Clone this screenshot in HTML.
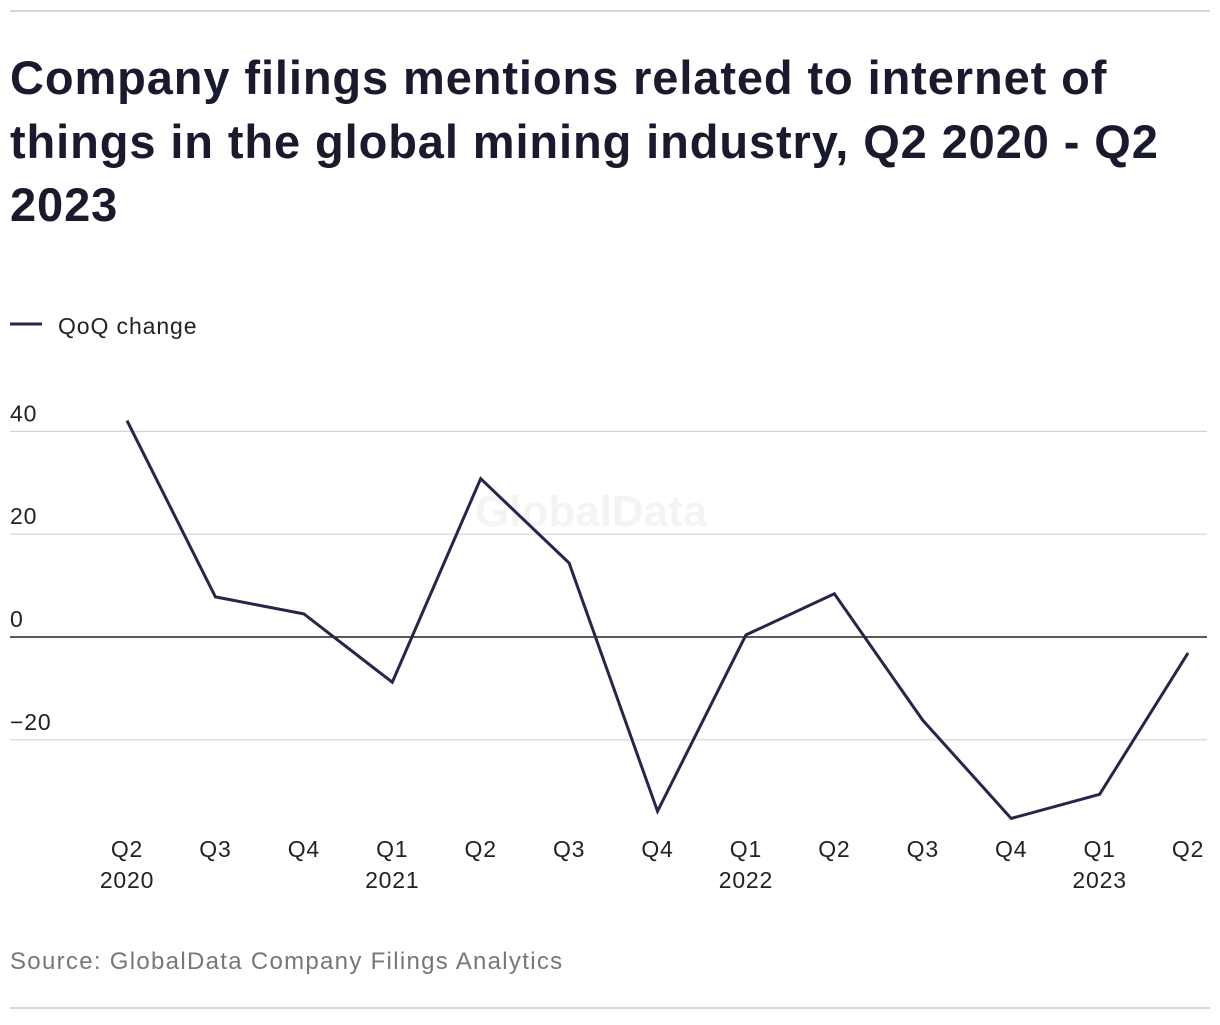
<!DOCTYPE html>
<html><head><meta charset="utf-8"><style>
body{margin:0;background:#fff;width:1220px;height:1020px;overflow:hidden;font-family:"Liberation Sans",sans-serif;}
</style></head><body>
<svg width="1220" height="1020">
<line x1="10" y1="11" x2="1210" y2="11" stroke="#d8d8d8" stroke-width="2"/>
<g font-size="47" font-weight="bold" fill="#1a1a2e" letter-spacing="0.9">
<text x="10" y="94">Company filings mentions related to internet of</text>
<text x="10" y="158">things in the global mining industry, Q2 2020 - Q2</text>
<text x="10" y="221">2023</text>
</g>
<line x1="10" y1="324" x2="42" y2="324" stroke="#26264a" stroke-width="3"/>
<text x="58" y="334" font-size="23" fill="#222" letter-spacing="0.9">QoQ change</text>
<text x="475" y="526" font-size="44" font-weight="bold" fill="#f4f4f4">GlobalData</text>
<g id="grid"></g>
<g id="xlabels"></g>
<path id="line" fill="none" stroke="#26264a" stroke-width="3" stroke-linejoin="miter"/>
<text x="10" y="969" font-size="24" fill="#777" letter-spacing="1.3">Source: GlobalData Company Filings Analytics</text>
<line x1="10" y1="1008" x2="1210" y2="1008" stroke="#d8d8d8" stroke-width="2"/>
</svg>
<script>
const quarters=["Q2","Q3","Q4","Q1","Q2","Q3","Q4","Q1","Q2","Q3","Q4","Q1","Q2"];
const years=["2020","","","2021","","","","2022","","","","2023",""];
const values=[42.1,7.8,4.5,-8.8,30.8,14.4,-33.9,0.4,8.4,-16.2,-35.3,-30.6,-3.1];
const yTicks=[40,20,0,-20];
const yTickLabels=["40","20","0","\u221220"];
const NS="http://www.w3.org/2000/svg";
const x=i=>127+i*88.42;
const y=v=>637-v*5.14;
const grid=document.getElementById('grid');
yTicks.forEach((t,k)=>{
 const l=document.createElementNS(NS,'line');
 l.setAttribute('x1',10);l.setAttribute('x2',1207);
 l.setAttribute('y1',y(t));l.setAttribute('y2',y(t));
 l.setAttribute('stroke',t===0?'#222':'#d4d4d4');l.setAttribute('stroke-width',t===0?1.5:1.2);
 
 
 grid.appendChild(l);
 const tx=document.createElementNS(NS,'text');
 tx.setAttribute('x',10);tx.setAttribute('y',y(t)-10);tx.setAttribute('font-size',23);tx.setAttribute('fill','#222');tx.setAttribute('letter-spacing','0.8');
 tx.textContent=yTickLabels[k];
 
 
 grid.appendChild(tx);
});
const xl=document.getElementById('xlabels');
quarters.forEach((q,i)=>{
 const t=document.createElementNS(NS,'text');
 t.setAttribute('x',x(i));t.setAttribute('y',857);t.setAttribute('font-size',23);t.setAttribute('fill','#222');t.setAttribute('text-anchor','middle');t.setAttribute('letter-spacing','0.8');
 t.textContent=q;
 
 
 xl.appendChild(t);
 if(years[i]){
  const t2=document.createElementNS(NS,'text');
  t2.setAttribute('x',x(i));t2.setAttribute('y',888);t2.setAttribute('font-size',23);t2.setAttribute('fill','#222');t2.setAttribute('text-anchor','middle');t2.setAttribute('letter-spacing','0.8');
  t2.textContent=years[i];
  
  
  xl.appendChild(t2);
 }
});
document.getElementById('line').setAttribute('d',values.map((v,i)=>(i?'L':'M')+x(i)+','+y(v)).join(' '));
</script>
</body></html>
